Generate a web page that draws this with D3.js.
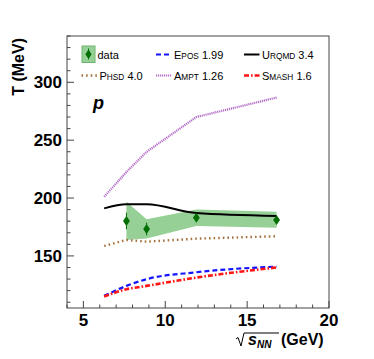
<!DOCTYPE html>
<html lang="en">
<head>
	<meta charset="UTF-8">
	<title>T vs sqrt(sNN)</title>
	<script src="https://d3js.org/d3.v7.min.js"></script>
	<style>
		body {margin: 0; background: white;}
		text {font-family: "Liberation Sans", Arial, sans-serif;}
	</style>
</head>
<body>
	<div id="myDiv"></div>
</body>
</html>

<script>
	// energies (GeV) where data / models are given
	let energies = [6.27, 7.63, 8.86, 11.9, 16.8];
	let dataEnergy = [7.63, 8.86, 11.9, 16.8];

	// measured T (MeV), stat error and systematic band
	let dataT = [180.2, 173.3, 183.0, 181.0];
	let dataStat = [7.2, 5.5, 2.0, 2.0];
	let sysHigh = [196.8, 181.6, 190.0, 188.2];
	let sysLow = [163.8, 165.1, 175.8, 174.4];

	// model curves
	let eposT = [115.5, 124.1, 129.9, 135.9, 140.8];
	let urqmdT = [191.1, 194.6, 194.6, 187.0, 184.5];
	let phsdT = [158.6, 163.8, 162.3, 164.9, 167.0];
	let amptT = [201.1, 222.5, 239.9, 270.0, 286.8];
	let smashT = [114.9, 121.2, 124.1, 131.3, 140.0];

	let xTicks = [5, 10, 15, 20];
	let yTicks = [150, 200, 250, 300];

	let svg = d3.select("#myDiv").append("svg")
		.attr("width", 374)
		.attr("height", 359);

	let x = d3.scaleLinear().domain([4, 20]).range([67, 329]);
	let y = d3.scaleLinear().domain([105, 340]).range([308, 36]);

	//Systematic band
	let band = dataEnergy.map(function(e, i){ return {e: e, hi: sysHigh[i], lo: sysLow[i]}; });
	svg.append("path")
		.datum(band)
		.attr("fill", "rgb(150,208,150)")
		.attr("d", d3.area()
			.x(function(d){ return x(d.e); })
			.y0(function(d){ return y(d.lo); })
			.y1(function(d){ return y(d.hi); }));

	//Model curves
	let models = [
		{v: phsdT, color: "rgb(165,115,65)", w: 2.4, dash: "1.6,3", curve: d3.curveLinear},
		{v: amptT, color: "rgb(180,110,200)", w: 2.2, dash: "1.2,0.8", curve: d3.curveLinear},
		{v: eposT, color: "rgb(20,20,255)", w: 2.2, dash: "5,3", curve: d3.curveMonotoneX},
		{v: smashT, color: "rgb(255,20,20)", w: 2.6, dash: "5,2,1.6,2", curve: d3.curveMonotoneX},
		{v: urqmdT, color: "black", w: 2, dash: null, curve: d3.curveMonotoneX}
	];

	models.forEach(function(m){
		svg.append("path")
			.datum(m.v)
			.attr("fill", "none")
			.attr("stroke", m.color)
			.attr("stroke-width", m.w)
			.attr("stroke-dasharray", m.dash)
			.attr("d", d3.line()
				.curve(m.curve)
				.x(function(d, i){ return x(energies[i]); })
				.y(function(d){ return y(d); }));
	});

	//Data points with stat error bars
	let green = "rgb(0,110,0)";
	dataEnergy.forEach(function(e, i){
		svg.append("line")
			.attr("x1", x(e)).attr("x2", x(e))
			.attr("y1", y(dataT[i] - dataStat[i]))
			.attr("y2", y(dataT[i] + dataStat[i]))
			.attr("stroke", green)
			.attr("stroke-width", 1);
		let cx = x(e), cy = y(dataT[i]);
		svg.append("path")
			.attr("d", "M" + cx + "," + (cy - 5) + "L" + (cx + 3.4) + "," + cy +
				"L" + cx + "," + (cy + 5) + "L" + (cx - 3.4) + "," + cy + "Z")
			.attr("fill", green);
	});

	//Frame
	svg.append("rect")
		.attr("x", 67).attr("y", 36)
		.attr("width", 262).attr("height", 272)
		.attr("fill", "none")
		.attr("stroke", "#444")
		.attr("stroke-width", 1);

	//Ticks (inside the frame)
	d3.range(4, 21, 1).forEach(function(t){
		let major = t % 5 == 0;
		svg.append("line")
			.attr("x1", x(t)).attr("x2", x(t))
			.attr("y1", 308).attr("y2", 308 - (major ? 7 : 3.5))
			.attr("stroke", "#444");
	});
	d3.range(110, 341, 10).forEach(function(t){
		let major = t % 50 == 0;
		svg.append("line")
			.attr("x1", 67).attr("x2", 67 + (major ? 7 : 3.5))
			.attr("y1", y(t)).attr("y2", y(t))
			.attr("stroke", "#444");
	});

	//Tick labels
	svg.selectAll(".xl").data(xTicks).enter()
		.append("text")
		.attr("x", function(d){ return x(d); })
		.attr("y", 325.5)
		.attr("text-anchor", "middle")
		.attr("font-weight", "bold")
		.attr("font-size", "17px")
		.text(function(d){ return d; });

	svg.selectAll(".yl").data(yTicks).enter()
		.append("text")
		.attr("x", 62)
		.attr("y", function(d){ return y(d) + 6; })
		.attr("text-anchor", "end")
		.attr("font-weight", "bold")
		.attr("font-size", "17px")
		.text(function(d){ return d; });

	//Axis titles
	svg.append("text")
		.attr("transform", "translate(24,38) rotate(-90)")
		.attr("text-anchor", "end")
		.attr("font-weight", "bold")
		.attr("font-size", "16px")
		.text("T (MeV)");

	svg.append("path")
		.attr("d", "M236,339 L238,337.5 L241,346 L244,333 L279,333")
		.attr("fill", "none")
		.attr("stroke", "black")
		.attr("stroke-width", 1);
	let xt = svg.append("text")
		.attr("x", 248).attr("y", 345)
		.attr("font-weight", "bold")
		.attr("font-size", "16px");
	xt.append("tspan").attr("font-style", "italic").text("s");
	xt.append("tspan").attr("font-style", "italic").attr("font-size", "10px")
		.attr("dy", 3).text("NN");
	xt.append("tspan").attr("x", 281).attr("dy", -3).text("(GeV)");

	//Particle label
	svg.append("text")
		.attr("x", 93).attr("y", 109)
		.attr("font-weight", "bold")
		.attr("font-style", "italic")
		.attr("font-size", "18px")
		.text("p");

	//Legend
	function smallCaps(xx, yy, first, rest, tail){
		let t = svg.append("text").attr("x", xx).attr("y", yy).attr("font-size", "11px");
		t.append("tspan").text(first);
		t.append("tspan").attr("font-size", "8.3px").text(rest);
		t.append("tspan").text(tail);
	}

	svg.append("rect")
		.attr("x", 82).attr("y", 46).attr("width", 13).attr("height", 16.5)
		.attr("fill", "rgb(150,208,150)")
		.attr("stroke", "rgb(110,180,110)");
	svg.append("line")
		.attr("x1", 88.5).attr("x2", 88.5).attr("y1", 48.5).attr("y2", 59.5)
		.attr("stroke", green);
	svg.append("path")
		.attr("d", "M88.5,49.5 L91.6,54.2 L88.5,59 L85.4,54.2 Z")
		.attr("fill", green);
	svg.append("text").attr("x", 97.5).attr("y", 58.5).attr("font-size", "11px").text("data");

	let legendRows = [
		{x1: 156, y: 54.5, m: models[2], first: "E", rest: "POS", tail: " 1.99"},
		{x1: 244, y: 54.5, m: models[4], first: "U", rest: "RQMD", tail: " 3.4"},
		{x1: 81.5, y: 75.5, m: models[0], first: "P", rest: "HSD", tail: " 4.0"},
		{x1: 156, y: 75.5, m: models[1], first: "A", rest: "MPT", tail: " 1.26"},
		{x1: 244, y: 75.5, m: models[3], first: "S", rest: "MASH", tail: " 1.6"}
	];
	legendRows.forEach(function(r){
		svg.append("line")
			.attr("x1", r.x1).attr("x2", r.x1 + 15.5)
			.attr("y1", r.y).attr("y2", r.y)
			.attr("stroke", r.m.color)
			.attr("stroke-width", r.m.w)
			.attr("stroke-dasharray", r.m.dash);
		smallCaps(r.x1 + 18, r.y + 4, r.first, r.rest, r.tail);
	});
</script>
